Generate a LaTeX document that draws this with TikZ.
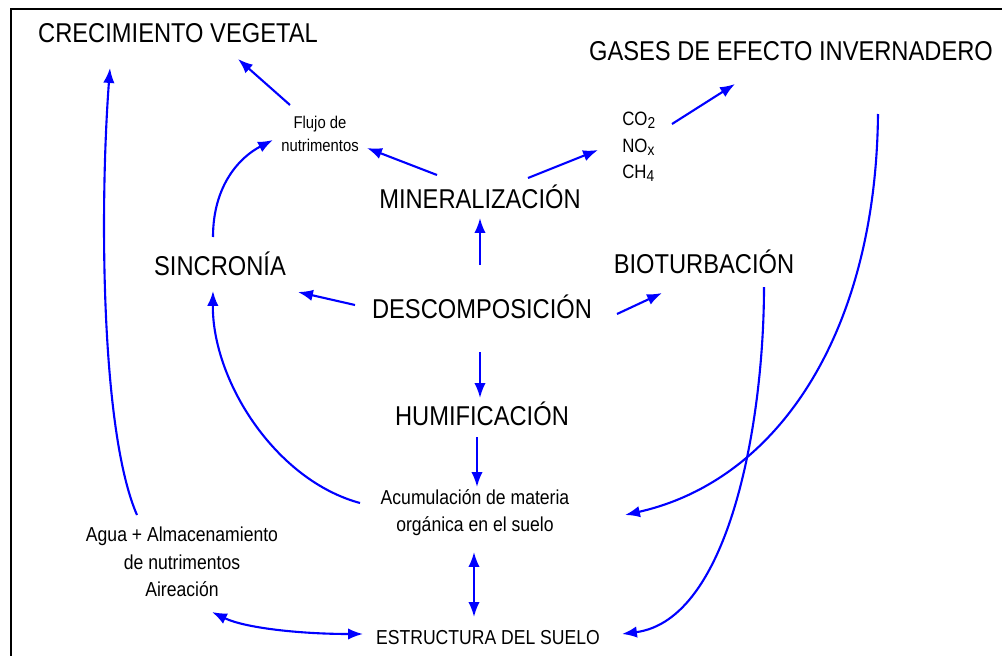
\documentclass[tikz,border=0pt]{standalone}
\usepackage{fontspec}
\setmainfont[FakeStretch=0.87]{Liberation Sans}
\usepackage{tikz}
\usetikzlibrary{arrows.meta}
\newcommand{\gsub}[1]{\raisebox{-1.6pt}{\fontsize{9}{9}\selectfont #1}}
\tikzset{
  bigtext/.style={font=\fontsize{15.5}{18}\selectfont, inner sep=0pt, anchor=base},
  midtext/.style={font=\fontsize{11.5}{15.5}\selectfont, align=center, inner sep=0pt},
  smalltext/.style={font=\fontsize{9.7}{13.1}\selectfont, align=center, inner sep=0pt},
  gastext/.style={font=\fontsize{11}{15}\selectfont, align=left, inner sep=0pt, anchor=west},
  arrow/.style={blue, line width=1.2pt, -{Latex[length=8.5pt, width=6.5pt]}},
  twoway/.style={blue, line width=1.2pt, {Latex[length=8.5pt, width=6.5pt]}-{Latex[length=8.5pt, width=6.5pt]}},
}

\begin{document}
\begin{tikzpicture}[x=0.02cm, y=-0.02cm]
          \useasboundingbox (0,0) rectangle (1002,656);
          \draw[line width=1.2pt] (11,656) -- (11,9) -- (1002,9);

          \node[bigtext] (crec) at (178,42) {CRECIMIENTO VEGETAL};
          \node[bigtext] (gases) at (791,60) {GASES DE EFECTO INVERNADERO};

          \node[smalltext] (flujo) at (320,134) {Flujo de \\ nutrimentos};
          \node[gastext] (gasq) at (622,147) {CO\gsub{2} \\ NO\gsub{x} \\ CH\gsub{4}};

          \node[bigtext] (mineral) at (480,208) {MINERALIZACIÓN};
          \node[bigtext] (sincro) at (220,275) {SINCRONÍA};
          \node[bigtext] (bioturb) at (704,273) {BIOTURBACIÓN};
          \node[bigtext] (descomp) at (482,318) {DESCOMPOSICIÓN};
          \node[bigtext] (humif) at (482,425) {HUMIFICACIÓN};

          \node[midtext] (acum) at (475,513) {Acumulación de materia \\ orgánica en el suelo};
          \node[midtext] (agua) at (182,562) {Agua + Almacenamiento \\ de nutrimentos \\ Aireación};
          \node[midtext, anchor=base] (estruct) at (488,644) {ESTRUCTURA DEL SUELO};

          \draw[arrow] ([shift={(-45,-47)}]agua.center) .. controls +(-37,-85) and +(-10,132) .. ([shift={(-68,26)}]crec.base);
          \draw[arrow] ([shift={(-30,-29)}]flujo.center) -- ([shift={(60,17)}]crec.base);
          \draw[arrow] ([shift={(-43,-33)}]mineral.base) -- ([shift={(47,14)}]flujo.center);
          \draw[arrow] ([shift={(48,-30)}]mineral.base) -- ([shift={(-24,3)}]gasq.west);
          \draw[arrow] ([shift={(50,-23)}]gasq.west) -- ([shift={(-56,24)}]gases.base);
          \draw[arrow] ([shift={(-2,-53)}]descomp.base) -- ([shift={(0,10)}]mineral.base);
          \draw[arrow] ([shift={(-127,-13)}]descomp.base) -- ([shift={(78,17)}]sincro.base);
          \draw[arrow] ([shift={(135,-4)}]descomp.base) -- ([shift={(-42,20)}]bioturb.base);
          \draw[arrow] ([shift={(-2,34)}]descomp.base) -- ([shift={(-2,-27)}]humif.base);
          \draw[arrow] ([shift={(-5,12)}]humif.base) -- ([shift={(2,-26)}]acum.center);
          \draw[arrow] ([shift={(-7,-38)}]sincro.base) .. controls +(0,-52) and +(-33,17) .. ([shift={(-47,6)}]flujo.center);
          \draw[arrow] ([shift={(-115,-10)}]acum.center) .. controls +(-85,-23) and +(-1,89) .. ([shift={(-7,16)}]sincro.base);
          \draw[arrow] ([shift={(87,54)}]gases.base) .. controls +(-2,216) and +(155,-35) .. ([shift={(150,2)}]acum.center);
          \draw[arrow] ([shift={(60,14)}]bioturb.base) .. controls +(0,133) and +(108,-14) .. ([shift={(134,-10)}]estruct.base);
          \draw[twoway] ([shift={(-1,39)}]acum.center) -- ([shift={(-14,-27)}]estruct.base);
          \draw[twoway] ([shift={(-125,-10)}]estruct.base) .. controls +(-63,0) and +(33,16) .. ([shift={(30,50)}]agua.center);
        \end{tikzpicture}
\end{document}
